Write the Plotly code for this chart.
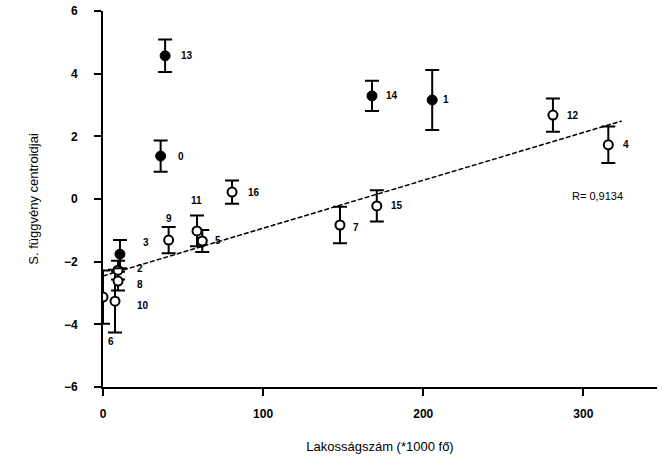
import plotly.graph_objects as go

# filled (black) points
f_labels = ["13", "0", "14", "1", "3"]
f_x = [38.8, 36.0, 168.0, 205.6, 10.6]
f_y = [4.57, 1.37, 3.29, 3.16, -1.76]
f_err = [0.52, 0.50, 0.48, 0.96, 0.45]

# open (white) points
o_labels = ["12", "4", "16", "9", "11", "5", "7", "15", "2", "8", "10", "6"]
o_x = [281.0, 315.6, 80.6, 41.0, 58.7, 62.0, 148.0, 171.0, 9.4, 9.4, 7.5, 0.0]
o_y = [2.68, 1.73, 0.22, -1.31, -1.02, -1.34, -0.83, -0.22, -2.27, -2.62, -3.26, -3.13]
o_err = [0.53, 0.58, 0.37, 0.42, 0.49, 0.35, 0.58, 0.50, 0.30, 0.30, 1.00, 0.85]

# regression line end points
trend_x = [0, 324]
trend_y = [-2.46, 2.49]

x_ticks = [0, 100, 200, 300]
y_ticks = [-6, -4, -2, 0, 2, 4, 6]

# label offsets (px) per point label
label_offsets = {
    "13": (22, 0), "0": (20, 0), "14": (20, 0), "1": (14, 0), "3": (26, 12),
    "12": (20, 0), "4": (18, 0), "16": (22, 0), "9": (0, 22), "11": (0, 30),
    "5": (16, 0), "7": (16, -2), "15": (20, 0), "2": (22, 2), "8": (22, -3),
    "10": (28, -4), "6": (8, -44),
}

font = "Liberation Sans, Arial, sans-serif"

fig = go.Figure()
fig.add_trace(go.Scatter(
    x=trend_x, y=trend_y, mode="lines",
    line=dict(color="black", width=1.5, dash="5px,2px"),
    hoverinfo="skip", showlegend=False))
fig.add_trace(go.Scatter(
    x=o_x, y=o_y, mode="markers",
    error_y=dict(type="data", array=o_err, color="black", thickness=2, width=7),
    marker=dict(symbol="circle", size=9, color="white", line=dict(color="black", width=2)),
    showlegend=False))
fig.add_trace(go.Scatter(
    x=f_x, y=f_y, mode="markers",
    error_y=dict(type="data", array=f_err, color="black", thickness=2, width=7),
    marker=dict(symbol="circle", size=10, color="black", line=dict(color="black", width=1)),
    showlegend=False))

for lab, x, y in list(zip(f_labels, f_x, f_y)) + list(zip(o_labels, o_x, o_y)):
    dx, dy = label_offsets.get(lab, (18, 0))
    fig.add_annotation(x=x, y=y, text=lab, showarrow=False, xshift=dx, yshift=dy,
                       font=dict(family=font, size=10, color="black", weight="bold"))

fig.add_annotation(x=309, y=0.1, text="R= 0,9134", showarrow=False,
                   font=dict(family=font, size=11, color="black"))

fig.update_layout(
    width=663, height=465,
    margin=dict(l=103, r=6, t=11, b=78),
    plot_bgcolor="white", paper_bgcolor="white",
    font=dict(family=font, color="black"),
)
fig.update_xaxes(
    range=[0, 346], tickvals=x_ticks, showgrid=False, zeroline=False,
    showline=True, linecolor="black", linewidth=2, automargin=False,
    ticks="outside", ticklen=7, tickwidth=2, tickcolor="black",
    tickfont=dict(family=font, size=12, color="black", weight="bold"),
    ticklabelstandoff=8,
    title=dict(text="Lakosságszám (*1000 fő)", font=dict(family=font, size=13), standoff=21),
)
fig.update_yaxes(
    range=[-6, 6], tickvals=y_ticks, showgrid=False, zeroline=False,
    showline=True, linecolor="black", linewidth=2, automargin=False,
    ticks="outside", ticklen=7, tickwidth=2, tickcolor="black",
    tickfont=dict(family=font, size=12, color="black", weight="bold"),
    ticklabelstandoff=14,
    title=dict(text="S. függvény centroidjai", font=dict(family=font, size=13), standoff=22),
)

fig.write_html("out.html", config={"displayModeBar": False},
               post_script="document.body.style.margin='0';")
